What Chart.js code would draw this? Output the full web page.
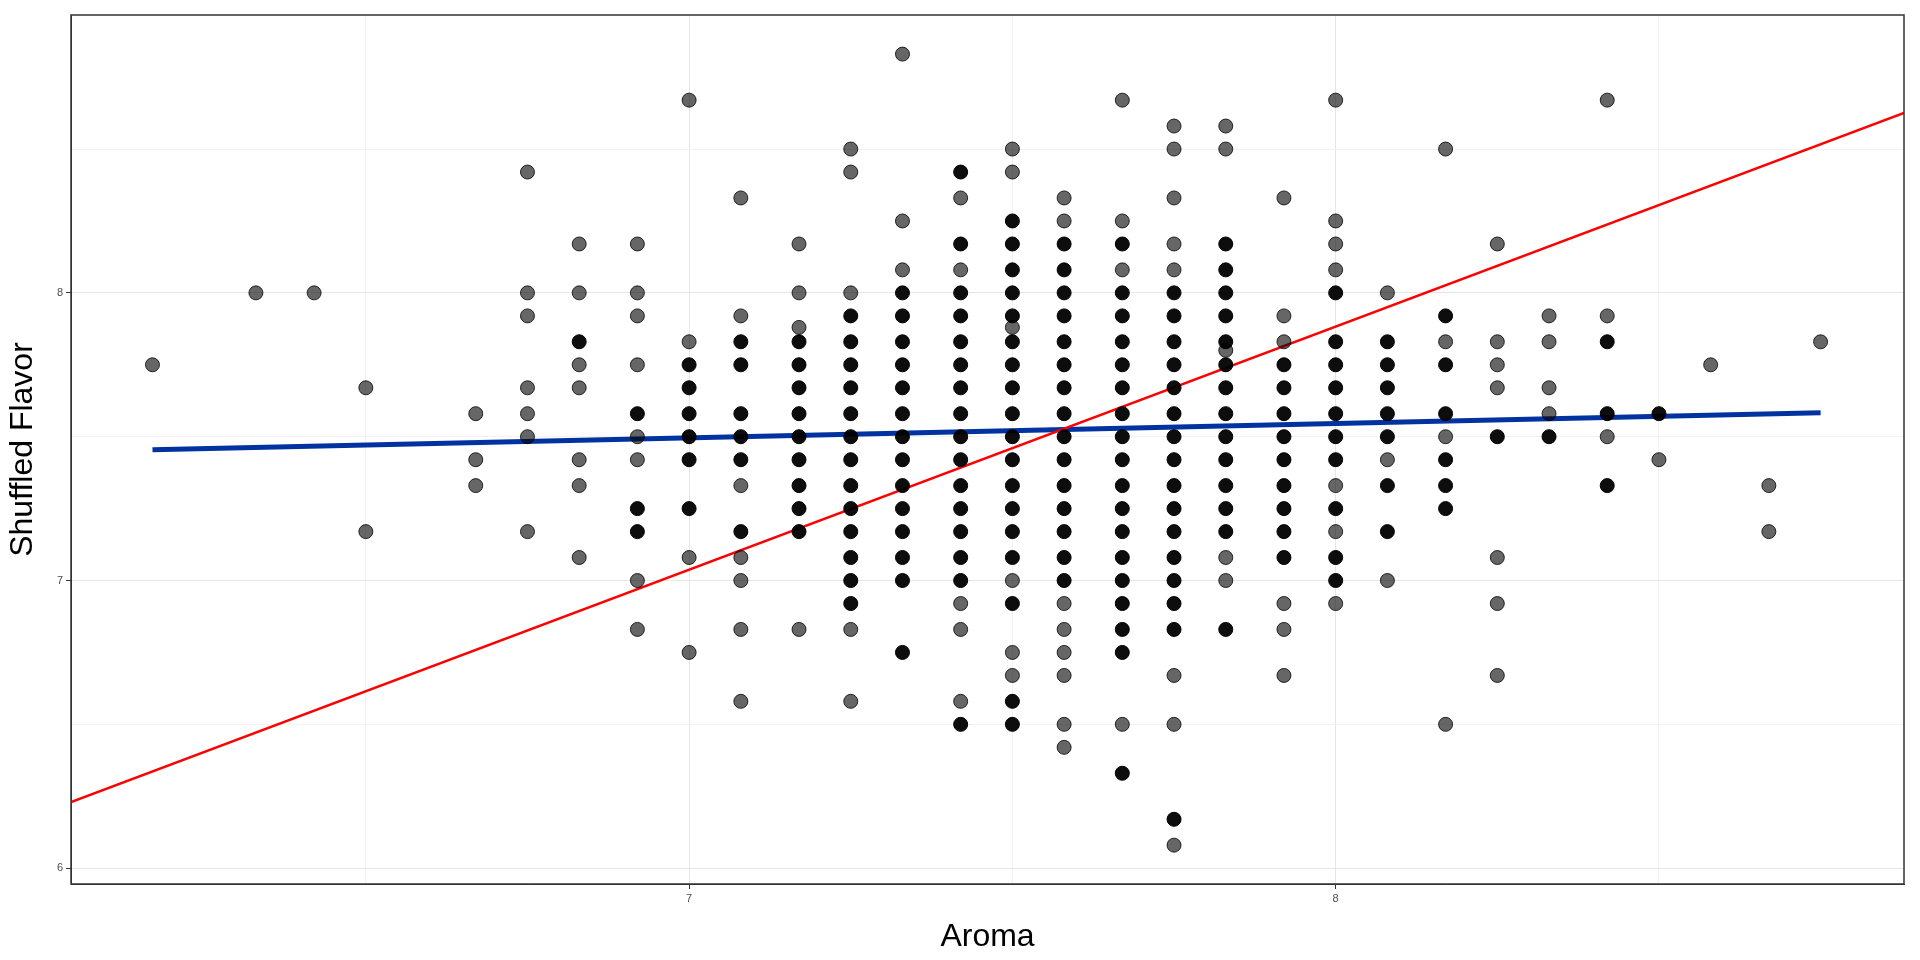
<!DOCTYPE html>
<html><head><meta charset="utf-8">
<script src="https://cdn.jsdelivr.net/npm/chart.js@4"></script>
<style>html,body{margin:0;background:#fff}#wrap{width:1920px;height:960px}</style>
</head><body><div id="wrap"><canvas id="c"></canvas></div>
<script>
// aroma columns and the flavor values seen in each (single = faint, stacked = dark)
const aroma = [6.17,6.33,6.42,6.5,6.67,6.75,6.83,6.92,7.0,7.08,7.17,7.25,7.33,7.42,7.5,7.58,7.67,7.75,7.83,7.92,8.0,8.08,8.17,8.25,8.33,8.42,8.5,8.58,8.67,8.75];
const faintFlavor = [
  [7.75],[8],[8],[7.67,7.17],[7.58,7.42,7.33],
  [8.42,8,7.92,7.67,7.58,7.5,7.17],
  [8.17,8,7.75,7.67,7.42,7.33,7.08],
  [8.17,8,7.92,7.75,7.5,7.42,7,6.83],
  [8.67,7.83,7.08,6.75],
  [8.33,7.92,7.33,7.08,7,6.83,6.58],
  [8.17,8,7.88,6.83],
  [8.5,8.42,8,6.83,6.58],
  [8.83,8.25,8.08],
  [8.33,8.08,6.92,6.83,6.58],
  [8.5,8.42,7.88,7,6.75,6.67],
  [8.33,8.25,6.92,6.83,6.75,6.67,6.5,6.42],
  [8.67,8.25,8.08,6.5],
  [8.58,8.5,8.33,8.17,8.08,6.67,6.5,6.08],
  [8.58,8.5,7.8,7.08,7],
  [8.33,7.92,7.83,6.92,6.83,6.67],
  [8.67,8.25,8.17,8.08,7.33,7.17,6.92],
  [8,7.42,7],
  [8.5,7.83,7.5,6.5],
  [8.17,7.83,7.75,7.67,7.08,6.92,6.67],
  [7.92,7.83,7.67,7.58],
  [8.67,7.92,7.5],
  [7.42],[7.75],[7.33,7.17],[7.83]
];
const darkFlavor = [
  [],[],[],[],[],[],[7.83],[7.58,7.25,7.17],
  [7.75,7.67,7.58,7.5,7.42,7.25],
  [7.83,7.75,7.58,7.5,7.42,7.17],
  [7.83,7.75,7.67,7.58,7.5,7.42,7.33,7.25,7.17],
  [7.92,7.83,7.75,7.67,7.58,7.5,7.42,7.33,7.25,7.17,7.08,7,6.92],
  [8,7.92,7.83,7.75,7.67,7.58,7.5,7.42,7.33,7.25,7.17,7.08,7,6.75],
  [8.42,8.17,8,7.92,7.83,7.75,7.67,7.58,7.5,7.42,7.33,7.25,7.17,7.08,7,6.5],
  [8.25,8.17,8.08,8,7.92,7.83,7.75,7.67,7.58,7.5,7.42,7.33,7.25,7.17,7.08,6.92,6.58,6.5],
  [8.17,8.08,8,7.92,7.83,7.75,7.67,7.58,7.5,7.42,7.33,7.25,7.17,7.08,7],
  [8.17,8,7.92,7.83,7.75,7.67,7.58,7.5,7.42,7.33,7.25,7.17,7.08,7,6.92,6.83,6.75,6.33],
  [8,7.92,7.83,7.75,7.67,7.58,7.5,7.42,7.33,7.25,7.17,7.08,7,6.92,6.83,6.17],
  [8.17,8.08,8,7.92,7.83,7.75,7.67,7.58,7.5,7.42,7.33,7.25,7.17,6.83],
  [7.75,7.67,7.58,7.5,7.42,7.33,7.25,7.17,7.08],
  [8,7.83,7.75,7.67,7.58,7.5,7.42,7.25,7.08,7],
  [7.83,7.75,7.67,7.58,7.5,7.33,7.17],
  [7.92,7.75,7.58,7.42,7.33,7.25],
  [7.5],[7.5],[7.83,7.58,7.33],[7.58],[],[],[]
];
const xTickLabels = [7, 8];
const yTickLabels = [6, 7, 8];
const fitX = [6.044, 8.879], fitRed = [6.23, 8.626];
const fitBlueX = [6.17, 8.75], fitBlue = [7.455, 7.583];

const faintPts = [], darkPts = [];
aroma.forEach((x, i) => {
  faintFlavor[i].forEach(y => faintPts.push({x, y}));
  darkFlavor[i].forEach(y => darkPts.push({x, y}));
});

const gridCol = ctx => (Math.abs(ctx.tick.value - Math.round(ctx.tick.value)) < 1e-6 ? '#e6e6e6' : '#f2f2f2');

new Chart(document.getElementById('c'), {
  type: 'scatter',
  data: {
    datasets: [
      {data: faintPts, pointRadius: 7, backgroundColor: 'rgba(0,0,0,0.6)', borderColor: 'rgba(0,0,0,0.8)', borderWidth: 1},
      {data: darkPts, pointRadius: 7, backgroundColor: 'rgba(0,0,0,0.95)', borderColor: '#000', borderWidth: 1},
      {type: 'line', data: fitX.map((x, i) => ({x, y: fitRed[i]})), borderColor: '#ff0000', borderWidth: 2.5, pointRadius: 0},
      {type: 'line', data: fitBlueX.map((x, i) => ({x, y: fitBlue[i]})), borderColor: '#0033a0', borderWidth: 5, pointRadius: 0}
    ]
  },
  options: {
    animation: false, responsive: true, maintainAspectRatio: false,
    layout: {padding: {top: 15, right: 16, left: 0, bottom: 0}},
    plugins: {legend: {display: false}, tooltip: {enabled: false}},
    scales: {
      x: {
        min: 6.044, max: 8.879,
        afterBuildTicks: s => { s.ticks = [6.5,7,7.5,8,8.5].map(v => ({value: v})); },
        afterFit: s => { s.height = 76; },
        ticks: {autoSkip: false, maxRotation: 0, color: '#4d4d4d', font: {family: 'Liberation Sans', size: 11},
          callback: v => xTickLabels.includes(v) ? String(v) : ''},
        grid: {color: gridCol, tickColor: ctx => xTickLabels.includes(ctx.tick.value) ? '#333' : 'rgba(0,0,0,0)', tickLength: 5},
        border: {color: '#333', width: 1},
        title: {display: true, text: 'Aroma', color: '#000', font: {family: 'Liberation Sans', size: 32}, padding: {top: 0}}
      },
      y: {
        min: 5.945, max: 8.966,
        afterBuildTicks: s => { s.ticks = [6,6.5,7,7.5,8,8.5].map(v => ({value: v})); },
        afterFit: s => { s.width = 71; },
        ticks: {autoSkip: false, color: '#4d4d4d', font: {family: 'Liberation Sans', size: 11},
          callback: v => yTickLabels.includes(v) ? String(v) : ''},
        grid: {color: gridCol, tickColor: ctx => yTickLabels.includes(ctx.tick.value) ? '#333' : 'rgba(0,0,0,0)', tickLength: 5},
        border: {color: '#333', width: 1},
        title: {display: true, text: 'Shuffled Flavor', color: '#000', font: {family: 'Liberation Sans', size: 32}, padding: {bottom: 4}}
      }
    }
  },
  plugins: [{
    id: 'frame',
    afterDraw(chart) {
      const {ctx, chartArea: a} = chart;
      ctx.save(); ctx.strokeStyle = '#333'; ctx.lineWidth = 1.5;
      ctx.strokeRect(a.left, a.top, a.right - a.left, a.bottom - a.top);
      ctx.restore();
    }
  }]
});
</script></body></html>
